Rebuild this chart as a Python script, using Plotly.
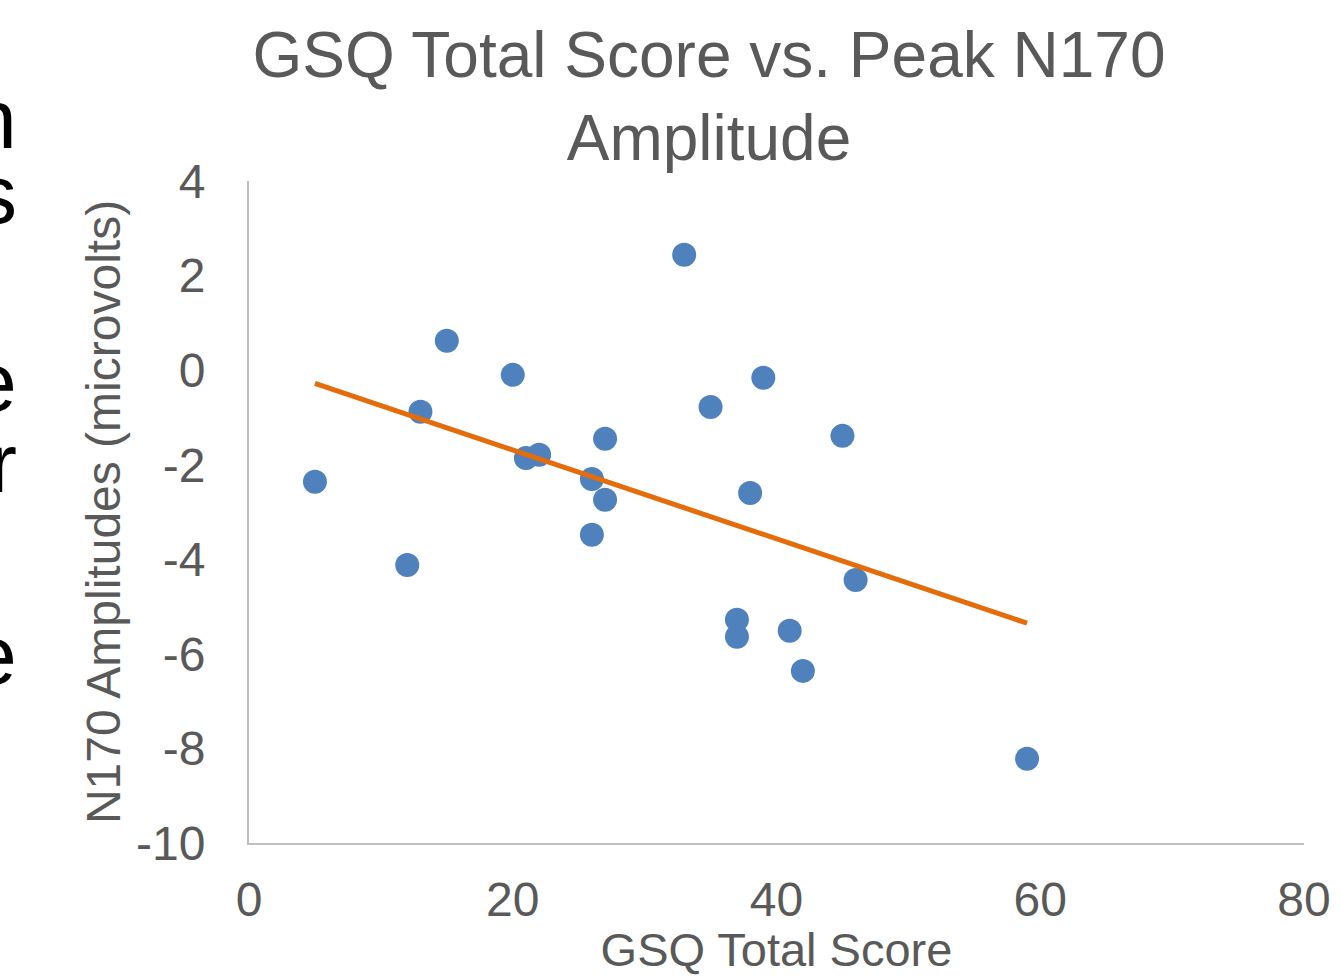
import numpy as np
import plotly.graph_objects as go

# GSQ total score vs peak N170 amplitude (one point per participant)
gsq_score = [5, 12, 13, 15, 20, 21, 22, 26, 26, 27, 27, 33, 35, 37, 37, 38, 39, 41, 42, 45, 46, 59]
n170_amp = [-2.36, -4.12, -0.88, 0.62, -0.10, -1.86, -1.79, -2.30, -3.48, -1.45, -2.74,
            2.44, -0.78, -5.28, -5.64, -2.60, -0.16, -5.51, -6.36, -1.39, -4.44, -8.22]

x_ticks = [0, 20, 40, 60, 80]
y_ticks = [-10, -8, -6, -4, -2, 0, 2, 4]

# cut-off letters of the slide text on the left edge
edge_letters = ["n", "s", "e", "r", "e"]
edge_letter_y = [119, 194, 382, 463, 655]  # pixel rows of the letters

font_family = "Liberation Sans, Arial, sans-serif"
gray = "#595959"

# linear trendline from the data
slope, intercept = np.polyfit(gsq_score, n170_amp, 1)
trend_x = [min(gsq_score), max(gsq_score)]
trend_y = [slope * v + intercept for v in trend_x]

fig = go.Figure()
fig.add_trace(go.Scatter(
    x=gsq_score, y=n170_amp, mode="markers",
    marker=dict(size=24, color="#4F81BD"),
    showlegend=False,
))
fig.add_trace(go.Scatter(
    x=trend_x, y=trend_y, mode="lines",
    line=dict(color="#E46C0A", width=5),
    showlegend=False,
))

plot_left, plot_right, plot_top, plot_bottom = 249, 1304, 181, 843
pw = plot_right - plot_left
ph = plot_bottom - plot_top

annotations = []
for letter, py in zip(edge_letters, edge_letter_y):
    annotations.append(dict(
        text=letter, xref="paper", yref="paper",
        x=(19 - plot_left) / pw, y=(plot_bottom - py) / ph,
        xanchor="right", yanchor="middle", showarrow=False,
        font=dict(family=font_family, size=84, color="black"),
    ))

fig.update_layout(
    width=1340, height=976,
    margin=dict(l=plot_left, r=1340 - plot_right, t=plot_top, b=976 - plot_bottom,
                autoexpand=False),
    paper_bgcolor="white", plot_bgcolor="white",
    font=dict(family=font_family, color=gray),
    title=dict(
        text="GSQ Total Score vs. Peak N170<br>Amplitude",
        x=709 / 1340, xanchor="center",
        y=1 - 77 / 976, yanchor="top", yref="container",
        font=dict(size=64, color=gray),
    ),
    annotations=annotations,
)
fig.update_xaxes(
    range=[0, 80], tickvals=x_ticks, ticktext=[str(v) for v in x_ticks],
    showgrid=False, zeroline=False, automargin=False,
    showline=True, linecolor="#BFBFBF", linewidth=2,
    tickfont=dict(size=48, color=gray), ticklabelstandoff=13,
    title=dict(text="GSQ Total Score", font=dict(size=47, color=gray), standoff=0),
)
fig.update_yaxes(
    range=[-10, 4], tickvals=y_ticks, ticktext=[str(v) for v in y_ticks],
    showgrid=False, zeroline=False, automargin=False,
    showline=True, linecolor="#BFBFBF", linewidth=2,
    tickfont=dict(size=48, color=gray), ticklabelstandoff=32,
    title=dict(text="N170 Amplitudes (microvolts)", font=dict(size=48, color=gray), standoff=0),
)

# the page body has an 8px default margin; drop it so the figure fills the window
fig.write_html("out.html", config={"displayModeBar": False},
               post_script="document.body.style.margin = '0';")
